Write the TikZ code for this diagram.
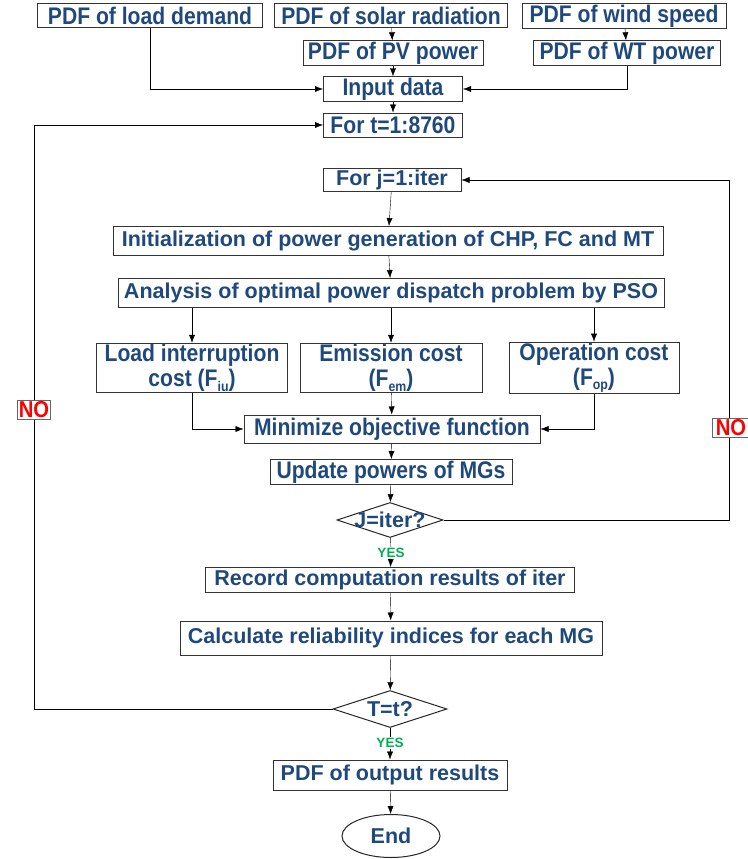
\documentclass[tikz,border=0pt]{standalone}
\usepackage{fontspec}
\setmainfont{Liberation Sans}
\newfontfamily\narrowfont[FakeStretch=0.88]{Liberation Sans}
\usetikzlibrary{positioning, shapes.geometric, arrows.meta}
\definecolor{txtblue}{RGB}{31,73,125}
\definecolor{nored}{RGB}{255,0,0}
\definecolor{yesgreen}{RGB}{0,176,80}
\newcommand{\fsub}[1]{F\raisebox{-0.35ex}{\fontsize{14}{14}\selectfont #1}}
\tikzset{
    ->, % every connector ends in an arrow
    >={Latex[length=8pt,width=6pt]}, % filled arrowheads
    line width=0.8pt,
    every node/.style={text=txtblue, font=\bfseries\fontsize{21.5}{23}\selectfont},
    box/.style={draw=black!80, line width=1pt, rectangle, inner sep=1pt, align=center},
    narrow/.style={font=\narrowfont\bfseries\fontsize{24}{25}\selectfont},
    decision/.style={draw=black!85, line width=1pt, diamond, aspect=3, inner xsep=-6pt, inner ysep=-3pt},
    yes/.style={text=yesgreen, font=\bfseries\fontsize{13.5}{14}\selectfont, inner sep=1pt},
    no/.style={draw=black!60, line width=0.8pt, fill=white, text=nored, inner sep=1.5pt,
        font=\narrowfont\bfseries\fontsize{23}{24}\selectfont},
}
\begin{document}
\begin{tikzpicture}[x=1pt, y=-1pt]
    \useasboundingbox (0,0) rectangle (747,859);

    % input data
    \node[box, narrow, minimum width=225, minimum height=24] (load) at (150,16) {PDF of load demand};
    \node[box, narrow, minimum width=233, minimum height=24] (solar) at (391,16) {PDF of solar radiation};
    \node[box, narrow, minimum width=204, minimum height=24] (wind) at (624,16) {PDF of wind speed};
    \node[box, narrow, minimum width=180, minimum height=23] (pv) at (393,53) {PDF of PV power};
    \node[box, narrow, minimum width=187, minimum height=23] (wt) at (627,53) {PDF of WT power};
    \node[box, narrow, minimum width=139, minimum height=24] (input) at (393,89) {Input data};
    \node[box, narrow, minimum width=139, minimum height=24] (fort) at (393,125) {For t=1:8760};

    % PSO loop
    \node[box, minimum width=138, minimum height=23] (forj) at (392,180) {For j=1:iter};
    \node[box, minimum width=550, minimum height=29] (init) at (388,241) {Initialization of power generation of CHP, FC and MT};
    \node[box, minimum width=546, minimum height=29] (anal) at (391,293) {Analysis of optimal power dispatch problem by PSO};
    \node[box, narrow, minimum width=191, minimum height=46] (lic) at (192,368) {Load interruption\\cost (\fsub{iu})};
    \node[box, narrow, minimum width=182, minimum height=46] (emc) at (391,368) {Emission cost\\(\fsub{em})};
    \node[box, narrow, minimum width=170, minimum height=48] (opc) at (594,368) {Operation cost\\(\fsub{op})};
    \node[box, narrow, minimum width=296, minimum height=28] (minf) at (392,429) {Minimize objective function};
    \node[box, narrow, minimum width=242, minimum height=25] (upd) at (391,472) {Update powers of MGs};
    \node[decision, minimum width=106, minimum height=35] (jit) at (390,520) {J=iter?};
    \node[yes] (yes1) at (391,553) {YES};

    % results
    \node[box, minimum width=369, minimum height=25] (rec) at (390,580) {Record computation results of iter};
    \node[box, minimum width=422, minimum height=34] (calc) at (391,638) {Calculate reliability indices for each MG};
    \node[decision, minimum width=114, minimum height=37] (tt) at (390,709) {T=t?};
    \node[yes] (yes2) at (390,743) {YES};
    \node[box, minimum width=234, minimum height=30] (out) at (390,775) {PDF of output results};
    \node[draw=black!85, line width=1pt, ellipse, minimum width=98, minimum height=43, inner sep=0pt] (end) at (391,836) {End};

    \coordinate (rloop) at (729,520);
    \coordinate (lloop) at (34,709);

    \draw (load) |- (input);
    \draw (solar) -- (pv);
    \draw (wind) -- (wt);
    \draw (pv) -- (input);
    \draw (wt) |- (input);
    \draw (input) -- (fort);
    \draw (forj) -- (init);
    \draw (init) -- (anal);
    \draw (anal.south -| lic) -- (lic);
    \draw (anal.south -| emc) -- (emc);
    \draw (anal.south -| opc) -- (opc);
    \draw (lic) |- (minf);
    \draw (emc) -- (minf);
    \draw (opc) |- (minf);
    \draw (minf) -- (upd);
    \draw (upd) -- (jit);
    \draw[-] (jit) -- (yes1);
    \draw (yes1) -- (rec);
    \draw (rec) -- (calc);
    \draw (calc) -- (tt);
    \draw[-] (tt) -- (yes2);
    \draw (yes2) -- (out);
    \draw (out) -- (end);
    \draw (jit) -- (rloop) |- (forj);
    \draw (tt) -- (lloop) |- (fort);

    \node[no, minimum width=37] (no1) at (731,428) {NO};
    \node[no] (no2) at (34,410) {NO};
\end{tikzpicture}
\end{document}
